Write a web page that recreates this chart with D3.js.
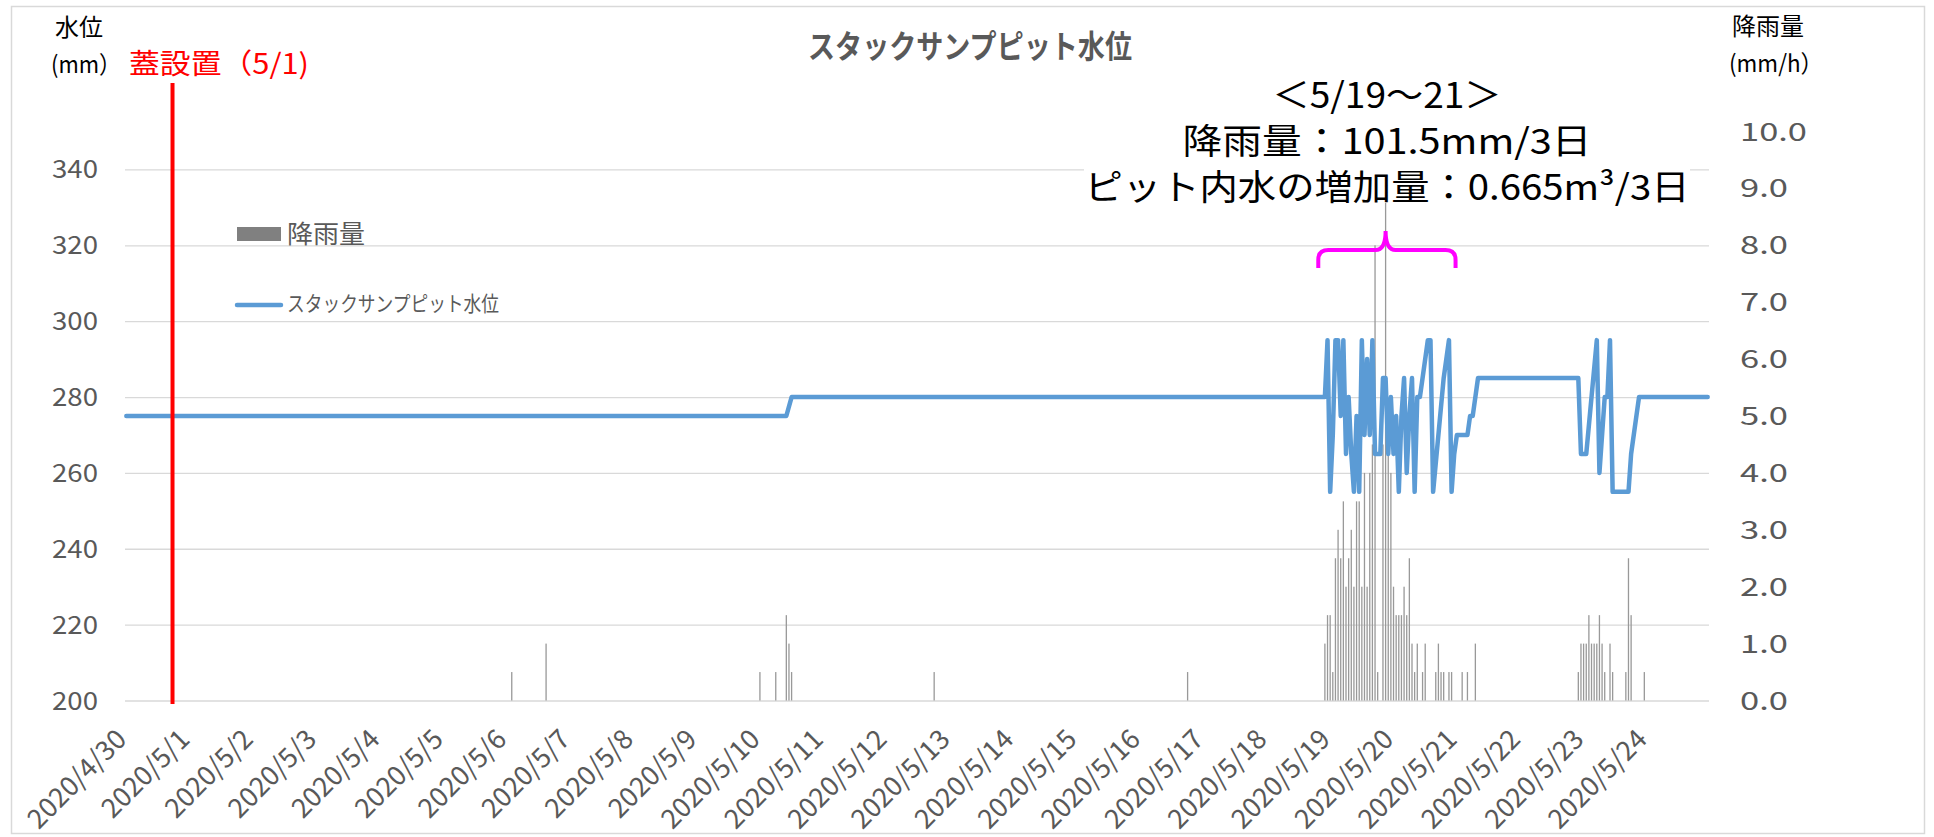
<!DOCTYPE html>
<html>
<head>
<meta charset="utf-8">
<script src="https://cdn.jsdelivr.net/npm/d3@7"></script>
<style>
  body { margin: 0; background: #fff; }
  svg text { font-family: "Noto Sans CJK JP", "Noto Sans", sans-serif; }
</style>
</head>
<body>
<div id="chart"></div>
<script>
// stack sump pit water level (mm) and hourly rainfall (mm/h), 2020/4/30 - 5/24

const levelTicks = [200, 220, 240, 260, 280, 300, 320, 340];
const rainTicks = [0, 1, 2, 3, 4, 5, 6, 7, 8, 9, 10];
const dayLabels = ["2020/4/30", "2020/5/1", "2020/5/2", "2020/5/3", "2020/5/4", "2020/5/5",
  "2020/5/6", "2020/5/7", "2020/5/8", "2020/5/9", "2020/5/10", "2020/5/11", "2020/5/12",
  "2020/5/13", "2020/5/14", "2020/5/15", "2020/5/16", "2020/5/17", "2020/5/18", "2020/5/19",
  "2020/5/20", "2020/5/21", "2020/5/22", "2020/5/23", "2020/5/24"];

// hourly rainfall, only the hours with rain
const rain = [
  ["2020/5/6 02:00", 0.5], ["2020/5/6 15:00", 1.0],
  ["2020/5/10 00:00", 0.5], ["2020/5/10 06:00", 0.5], ["2020/5/10 10:00", 1.5],
  ["2020/5/10 11:00", 1.0], ["2020/5/10 12:00", 0.5],
  ["2020/5/12 18:00", 0.5], ["2020/5/16 18:00", 0.5],
  ["2020/5/18 22:00", 1.0], ["2020/5/18 23:00", 1.5],
  ["2020/5/19 00:00", 1.5], ["2020/5/19 01:00", 0.5], ["2020/5/19 02:00", 2.5],
  ["2020/5/19 03:00", 3.0], ["2020/5/19 04:00", 2.5], ["2020/5/19 05:00", 3.5],
  ["2020/5/19 06:00", 2.0], ["2020/5/19 07:00", 2.5], ["2020/5/19 08:00", 3.0],
  ["2020/5/19 09:00", 2.0], ["2020/5/19 10:00", 3.5], ["2020/5/19 11:00", 3.5],
  ["2020/5/19 12:00", 2.0], ["2020/5/19 13:00", 4.0], ["2020/5/19 14:00", 2.0],
  ["2020/5/19 15:00", 4.0], ["2020/5/19 16:00", 4.5], ["2020/5/19 17:00", 8.0],
  ["2020/5/19 18:00", 0.5], ["2020/5/19 20:00", 4.5], ["2020/5/19 21:00", 9.0],
  ["2020/5/19 22:00", 4.5], ["2020/5/19 23:00", 4.0],
  ["2020/5/20 00:00", 2.0], ["2020/5/20 01:00", 1.5], ["2020/5/20 02:00", 1.5],
  ["2020/5/20 03:00", 1.5], ["2020/5/20 04:00", 2.0], ["2020/5/20 05:00", 1.5],
  ["2020/5/20 06:00", 2.5], ["2020/5/20 07:00", 1.0], ["2020/5/20 08:00", 0.5],
  ["2020/5/20 09:00", 1.0], ["2020/5/20 11:00", 0.5], ["2020/5/20 12:00", 1.0],
  ["2020/5/20 16:00", 0.5], ["2020/5/20 17:00", 1.0], ["2020/5/20 18:00", 0.5],
  ["2020/5/20 19:00", 0.5], ["2020/5/20 21:00", 0.5], ["2020/5/20 22:00", 0.5],
  ["2020/5/21 02:00", 0.5], ["2020/5/21 04:00", 0.5], ["2020/5/21 07:00", 1.0],
  ["2020/5/22 22:00", 0.5], ["2020/5/22 23:00", 1.0],
  ["2020/5/23 00:00", 1.0], ["2020/5/23 01:00", 1.0], ["2020/5/23 02:00", 1.5],
  ["2020/5/23 03:00", 1.0], ["2020/5/23 04:00", 1.0], ["2020/5/23 05:00", 1.0],
  ["2020/5/23 06:00", 1.5], ["2020/5/23 07:00", 1.0], ["2020/5/23 08:00", 0.5],
  ["2020/5/23 10:00", 1.0], ["2020/5/23 11:00", 0.5], ["2020/5/23 16:00", 0.5],
  ["2020/5/23 17:00", 2.5], ["2020/5/23 18:00", 1.5], ["2020/5/23 23:00", 0.5]
];

// water level, hours where the line changes direction
const level = [
  ["2020/4/30 00:00", 275], ["2020/5/10 10:00", 275], ["2020/5/10 12:00", 280],
  ["2020/5/18 22:00", 280], ["2020/5/18 23:00", 295], ["2020/5/19 00:00", 255],
  ["2020/5/19 01:00", 270], ["2020/5/19 02:00", 295], ["2020/5/19 03:00", 295],
  ["2020/5/19 04:00", 275], ["2020/5/19 05:00", 295], ["2020/5/19 06:00", 265],
  ["2020/5/19 07:00", 280], ["2020/5/19 08:00", 265], ["2020/5/19 09:00", 255],
  ["2020/5/19 10:00", 275], ["2020/5/19 11:00", 255], ["2020/5/19 12:00", 295],
  ["2020/5/19 13:00", 270], ["2020/5/19 14:00", 290], ["2020/5/19 15:00", 270],
  ["2020/5/19 16:00", 295], ["2020/5/19 17:00", 265], ["2020/5/19 19:00", 265],
  ["2020/5/19 20:00", 285], ["2020/5/19 21:00", 285], ["2020/5/19 22:00", 265],
  ["2020/5/19 23:00", 280], ["2020/5/20 00:00", 265], ["2020/5/20 01:00", 275],
  ["2020/5/20 02:00", 255], ["2020/5/20 03:00", 275], ["2020/5/20 04:00", 285],
  ["2020/5/20 05:00", 260], ["2020/5/20 06:00", 275], ["2020/5/20 07:00", 285],
  ["2020/5/20 08:00", 255], ["2020/5/20 09:00", 280], ["2020/5/20 10:00", 280],
  ["2020/5/20 11:00", 285], ["2020/5/20 12:00", 290], ["2020/5/20 13:00", 295],
  ["2020/5/20 14:00", 295], ["2020/5/20 15:00", 255], ["2020/5/20 19:00", 285],
  ["2020/5/20 21:00", 295], ["2020/5/20 22:00", 255], ["2020/5/20 23:00", 265],
  ["2020/5/21 00:00", 270], ["2020/5/21 04:00", 270], ["2020/5/21 05:00", 275],
  ["2020/5/21 06:00", 275], ["2020/5/21 08:00", 285], ["2020/5/22 22:00", 285],
  ["2020/5/22 23:00", 265], ["2020/5/23 01:00", 265], ["2020/5/23 05:00", 295],
  ["2020/5/23 06:00", 260], ["2020/5/23 08:00", 280], ["2020/5/23 09:00", 280],
  ["2020/5/23 10:00", 295], ["2020/5/23 11:00", 255], ["2020/5/23 17:00", 255],
  ["2020/5/23 18:00", 265], ["2020/5/23 21:00", 280], ["2020/5/24 23:00", 280]
];

const lidDate = "2020/4/30 18:00";   // 蓋設置 marker
const braceFrom = "2020/5/18 20:00", braceTo = "2020/5/21 00:00", braceTip = "2020/5/19 21:30";
const noteLines = ["＜5/19～21＞", "降雨量：101.5mm/3日", "ピット内水の増加量：0.665m³/3日"];
const seriesName = "スタックサンフ\u309Aヒ\u309Aット水位";

const W = 1934, H = 837;
const plot = { left: 125, right: 1709, top: 131.5, bottom: 700.5 };
const parse = d3.timeParse("%Y/%m/%d %H:%M");
const halfHour = 30 * 60 * 1000;

const svg = d3.select("#chart").append("svg")
  .attr("width", W).attr("height", H)
  .style("display", "block");

// chart frame
svg.append("rect")
  .attr("x", 11.5).attr("y", 6.5).attr("width", 1913).attr("height", 827)
  .attr("fill", "#fff").attr("stroke", "#d9d9d9").attr("stroke-width", 1.5);

const x = d3.scaleTime()
  .domain([parse("2020/4/30 00:00"), parse("2020/5/25 00:00")])
  .range([plot.left, plot.right]);
const yL = d3.scaleLinear().domain([200, 350]).range([plot.bottom, plot.top]);
const yR = d3.scaleLinear().domain([0, 10]).range([plot.bottom, plot.top]);

// gridlines (left axis)
svg.append("g")
  .attr("transform", `translate(${plot.left},0)`)
  .call(d3.axisLeft(yL).tickValues(levelTicks).tickSize(-(plot.right - plot.left)).tickFormat(""))
  .call(g => g.select(".domain").remove())
  .selectAll("line").attr("stroke", "#d9d9d9").attr("stroke-width", 1.3);

// left tick labels
svg.append("g").selectAll("text")
  .data(levelTicks).join("text")
  .attr("x", 98).attr("y", d => yL(d)).attr("dy", "0.36em")
  .attr("text-anchor", "end")
  .attr("font-size", 25).attr("fill", "#595959")
  .attr("textLength", 46).attr("lengthAdjust", "spacingAndGlyphs")
  .text(d => d);

// right tick labels
svg.append("g").selectAll("text")
  .data(rainTicks).join("text")
  .attr("x", 1740).attr("y", d => yR(d)).attr("dy", "0.36em")
  .attr("font-size", 25).attr("fill", "#595959")
  .attr("textLength", d => d >= 10 ? 67 : 48).attr("lengthAdjust", "spacingAndGlyphs")
  .text(d => d3.format(".1f")(d));

// x labels (one per day)
const dayParse = d3.timeParse("%Y/%m/%d");
svg.append("g").selectAll("text")
  .data(dayLabels).join("text")
  .attr("transform", d => `translate(${x(dayParse(d)) + 3},${741}) rotate(-45)`)
  .attr("text-anchor", "end")
  .attr("font-size", 27).attr("fill", "#595959")
  .text(d => d);

// rainfall bars
const rainData = rain.map(([t, v]) => ({ t: parse(t), v }));
svg.append("g").selectAll("rect")
  .data(rainData).join("rect")
  .attr("x", d => x(+d.t + halfHour) - 0.65)
  .attr("width", 1.3)
  .attr("y", d => yR(d.v))
  .attr("height", d => yR(0) - yR(d.v))
  .attr("fill", "#999999");

// white box behind the annotation
svg.append("rect")
  .attr("x", 1084).attr("y", 72).attr("width", 606).attr("height", 131)
  .attr("fill", "#fff");

// water level line
const levelData = level.map(([t, v]) => ({ t: parse(t), v }));
svg.append("path")
  .datum(levelData)
  .attr("fill", "none")
  .attr("stroke", "#5b9bd5")
  .attr("stroke-width", 4.5)
  .attr("stroke-linejoin", "round")
  .attr("stroke-linecap", "round")
  .attr("d", d3.line().x(d => x(+d.t + halfHour)).y(d => yL(d.v)));

// lid installation marker
svg.append("line")
  .attr("x1", x(parse(lidDate))).attr("x2", x(parse(lidDate)))
  .attr("y1", 83).attr("y2", 704)
  .attr("stroke", "#ff0000").attr("stroke-width", 4);
svg.append("text")
  .attr("x", 129).attr("y", 74)
  .attr("font-size", 28).attr("fill", "#ff0000")
  .attr("textLength", 180).attr("lengthAdjust", "spacingAndGlyphs")
  .text("蓋設置（5/1)");

// title
svg.append("text")
  .attr("x", 970).attr("y", 46).attr("dy", "0.36em")
  .attr("text-anchor", "middle")
  .attr("font-size", 32).attr("font-weight", "bold").attr("fill", "#595959")
  .attr("textLength", 324).attr("lengthAdjust", "spacingAndGlyphs")
  .text(seriesName);

// axis titles
svg.append("text").attr("x", 79).attr("y", 27).attr("dy", "0.36em")
  .attr("text-anchor", "middle").attr("font-size", 24).attr("fill", "#000").text("水位");
svg.append("text").attr("x", 86).attr("y", 64).attr("dy", "0.36em")
  .attr("text-anchor", "middle").attr("font-size", 24).attr("fill", "#000")
  .attr("textLength", 70).attr("lengthAdjust", "spacingAndGlyphs").text("(mm）");
svg.append("text").attr("x", 1768).attr("y", 26).attr("dy", "0.36em")
  .attr("text-anchor", "middle").attr("font-size", 24).attr("fill", "#000").text("降雨量");
svg.append("text").attr("x", 1776).attr("y", 63).attr("dy", "0.36em")
  .attr("text-anchor", "middle").attr("font-size", 24).attr("fill", "#000")
  .attr("textLength", 94).attr("lengthAdjust", "spacingAndGlyphs").text("(mm/h）");

// legend
svg.append("rect").attr("x", 237).attr("y", 227).attr("width", 44).attr("height", 14).attr("fill", "#808080");
svg.append("text").attr("x", 287).attr("y", 234).attr("dy", "0.36em")
  .attr("font-size", 25).attr("fill", "#595959")
  .attr("textLength", 78).attr("lengthAdjust", "spacingAndGlyphs").text("降雨量");
svg.append("line").attr("x1", 237).attr("x2", 281).attr("y1", 305).attr("y2", 305)
  .attr("stroke", "#5b9bd5").attr("stroke-width", 4.5).attr("stroke-linecap", "round");
svg.append("text").attr("x", 287).attr("y", 303).attr("dy", "0.36em")
  .attr("font-size", 21).attr("fill", "#595959")
  .attr("textLength", 212).attr("lengthAdjust", "spacingAndGlyphs").text(seriesName);

// annotation
const noteY = [95, 141, 187], noteW = [229, 409, 605];
svg.append("g").selectAll("text")
  .data(noteLines).join("text")
  .attr("x", 1387).attr("y", (d, i) => noteY[i]).attr("dy", "0.36em")
  .attr("text-anchor", "middle")
  .attr("font-size", 35).attr("fill", "#000")
  .attr("textLength", (d, i) => noteW[i]).attr("lengthAdjust", "spacingAndGlyphs")
  .text(d => d);

// magenta brace over the 5/19-21 rain event
const bx0 = x(parse(braceFrom)), bx1 = x(parse(braceTo)), bt = x(parse(braceTip));
const bTop = 231, bMid = 250, bEnd = 268;
svg.append("path")
  .attr("d", `M${bx0},${bEnd} L${bx0},${bMid + 10} Q${bx0},${bMid} ${bx0 + 10},${bMid}
    L${bt - 10},${bMid} Q${bt},${bMid} ${bt},${bTop} Q${bt},${bMid} ${bt + 10},${bMid}
    L${bx1 - 10},${bMid} Q${bx1},${bMid} ${bx1},${bMid + 10} L${bx1},${bEnd}`)
  .attr("fill", "none").attr("stroke", "#ff00ff").attr("stroke-width", 4);
</script>
</body>
</html>
